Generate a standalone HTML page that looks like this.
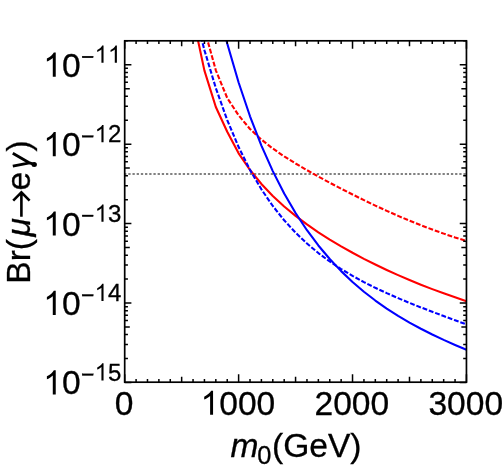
<!DOCTYPE html>
<html><head><meta charset="utf-8"><title>plot</title>
<style>html,body{margin:0;padding:0;background:#fff}svg{display:block;will-change:transform}</style></head>
<body>
<svg width="504" height="465" viewBox="0 0 504 465">
<rect width="504" height="465" fill="#fff"/>
<defs><clipPath id="c"><rect x="124.70" y="40.80" width="341.75" height="341.40"/></clipPath></defs>
<g clip-path="url(#c)" fill="none" stroke-linejoin="round">
<line x1="124.09" x2="468.45" y1="173.95" y2="173.95" stroke="#585858" stroke-width="1.45" stroke-dasharray="2.3 1.89"/>
<path d="M193.05,17.20 L204.44,70.60 L215.83,107.00 L227.23,131.70 L238.62,153.32 L250.01,170.02 L261.40,183.96 L272.79,195.93 L284.18,206.44 L295.57,215.85 L306.97,224.41 L318.36,232.27 L329.75,239.56 L341.14,246.38 L352.53,252.78 L363.93,258.83 L375.32,264.55 L386.71,269.98 L398.10,275.13 L409.49,280.03 L420.88,284.70 L432.27,289.13 L443.67,293.35 L455.06,297.36 L466.45,301.18" stroke="#f00" stroke-width="2.10"/>
<path d="M193.05,5.71 L204.44,50.21 L215.83,88.07 L227.23,120.05 L238.62,147.04 L250.01,169.90 L261.40,189.34 L272.79,205.97 L284.18,220.29 L295.57,232.70 L306.97,243.52 L318.36,253.05 L329.75,261.49 L341.14,269.05 L352.53,275.87 L363.93,282.09 L375.32,287.82 L386.71,293.14 L398.10,298.14 L409.49,302.88 L420.88,307.42 L432.27,311.80 L443.67,316.07 L455.06,320.26 L466.45,324.39" stroke="#00f" stroke-width="2.10" stroke-dasharray="4.850 1.858" stroke-dashoffset="1.507"/>
<path d="M204.44,29.31 L215.83,70.28 L227.23,98.00 L238.62,115.37 L250.01,128.96 L261.40,139.63 L272.79,148.54 L284.18,156.36 L295.57,163.49 L306.97,170.18 L318.36,176.57 L329.75,182.74 L341.14,188.71 L352.53,194.51 L363.93,200.14 L375.32,205.58 L386.71,210.83 L398.10,215.87 L409.49,220.68 L420.88,225.25 L432.27,229.57 L443.67,233.62 L455.06,237.39 L466.45,240.87" stroke="#f00" stroke-width="2.10" stroke-dasharray="4.850 1.878" stroke-dashoffset="6.640"/>
<path d="M215.83,-1.66 L227.23,43.46 L238.62,82.48 L250.01,116.26 L261.40,145.58 L272.79,171.11 L284.18,193.41 L295.57,212.99 L306.97,230.23 L318.36,245.49 L329.75,259.04 L341.14,271.13 L352.53,281.97 L363.93,291.72 L375.32,300.54 L386.71,308.56 L398.10,315.87 L409.49,322.59 L420.88,328.79 L432.27,334.54 L443.67,339.90 L455.06,344.93 L466.45,349.67" stroke="#00f" stroke-width="2.10"/>
</g>
<path d="M124.70,382.20v-8.00M124.70,40.80v8.00M136.09,382.20v-3.20M136.09,40.80v3.20M147.48,382.20v-3.20M147.48,40.80v3.20M158.88,382.20v-3.20M158.88,40.80v3.20M170.27,382.20v-3.20M170.27,40.80v3.20M181.66,382.20v-5.40M181.66,40.80v5.40M193.05,382.20v-3.20M193.05,40.80v3.20M204.44,382.20v-3.20M204.44,40.80v3.20M215.83,382.20v-3.20M215.83,40.80v3.20M227.23,382.20v-3.20M227.23,40.80v3.20M238.62,382.20v-8.00M238.62,40.80v8.00M250.01,382.20v-3.20M250.01,40.80v3.20M261.40,382.20v-3.20M261.40,40.80v3.20M272.79,382.20v-3.20M272.79,40.80v3.20M284.18,382.20v-3.20M284.18,40.80v3.20M295.57,382.20v-5.40M295.57,40.80v5.40M306.97,382.20v-3.20M306.97,40.80v3.20M318.36,382.20v-3.20M318.36,40.80v3.20M329.75,382.20v-3.20M329.75,40.80v3.20M341.14,382.20v-3.20M341.14,40.80v3.20M352.53,382.20v-8.00M352.53,40.80v8.00M363.93,382.20v-3.20M363.93,40.80v3.20M375.32,382.20v-3.20M375.32,40.80v3.20M386.71,382.20v-3.20M386.71,40.80v3.20M398.10,382.20v-3.20M398.10,40.80v3.20M409.49,382.20v-5.40M409.49,40.80v5.40M420.88,382.20v-3.20M420.88,40.80v3.20M432.27,382.20v-3.20M432.27,40.80v3.20M443.67,382.20v-3.20M443.67,40.80v3.20M455.06,382.20v-3.20M455.06,40.80v3.20M466.45,382.20v-8.00M466.45,40.80v8.00M124.70,382.42h6.70M466.45,382.42h-6.70M124.70,358.51h3.25M466.45,358.51h-3.25M124.70,344.53h3.25M466.45,344.53h-3.25M124.70,334.60h3.25M466.45,334.60h-3.25M124.70,326.91h5.10M466.45,326.91h-5.10M124.70,320.62h3.25M466.45,320.62h-3.25M124.70,315.30h3.25M466.45,315.30h-3.25M124.70,310.70h3.25M466.45,310.70h-3.25M124.70,306.63h3.25M466.45,306.63h-3.25M124.70,303.00h6.70M466.45,303.00h-6.70M124.70,279.09h3.25M466.45,279.09h-3.25M124.70,265.11h3.25M466.45,265.11h-3.25M124.70,255.18h3.25M466.45,255.18h-3.25M124.70,247.49h5.10M466.45,247.49h-5.10M124.70,241.20h3.25M466.45,241.20h-3.25M124.70,235.88h3.25M466.45,235.88h-3.25M124.70,231.28h3.25M466.45,231.28h-3.25M124.70,227.21h3.25M466.45,227.21h-3.25M124.70,223.58h6.70M466.45,223.58h-6.70M124.70,199.67h3.25M466.45,199.67h-3.25M124.70,185.69h3.25M466.45,185.69h-3.25M124.70,175.76h3.25M466.45,175.76h-3.25M124.70,168.07h5.10M466.45,168.07h-5.10M124.70,161.78h3.25M466.45,161.78h-3.25M124.70,156.46h3.25M466.45,156.46h-3.25M124.70,151.86h3.25M466.45,151.86h-3.25M124.70,147.79h3.25M466.45,147.79h-3.25M124.70,144.16h6.70M466.45,144.16h-6.70M124.70,120.25h3.25M466.45,120.25h-3.25M124.70,106.27h3.25M466.45,106.27h-3.25M124.70,96.34h3.25M466.45,96.34h-3.25M124.70,88.65h5.10M466.45,88.65h-5.10M124.70,82.36h3.25M466.45,82.36h-3.25M124.70,77.04h3.25M466.45,77.04h-3.25M124.70,72.44h3.25M466.45,72.44h-3.25M124.70,68.37h3.25M466.45,68.37h-3.25M124.70,64.74h6.70M466.45,64.74h-6.70M124.70,40.83h3.25M466.45,40.83h-3.25" stroke="#000" stroke-width="1.5" fill="none"/>
<rect x="124.70" y="40.80" width="341.75" height="341.40" fill="none" stroke="#000" stroke-width="1.7"/>
<defs><path id="o" d="M763,0H583V1147Q518,1085 412.5,1023Q307,961 223,930V1104Q374,1175 487,1276Q600,1377 647,1472H763Z"/></defs>
<g font-family="'Liberation Sans', sans-serif" fill="#000" stroke="#000" stroke-width="0.3" style="font-kerning:none" font-size="33.6">
<text x="114.66" y="414.80">0</text>
<use href="#o" transform="translate(200.54,414.80) scale(0.01641,-0.01641)"/>
<text x="219.23" y="414.80">000</text>
<text x="314.46" y="414.80">2000</text>
<text x="428.38" y="414.80">3000</text>
<use href="#o" transform="translate(43.22,394.42) scale(0.01641,-0.01641)"/>
<text x="61.90" y="394.42">0</text>
<rect x="82.14" y="373.82" width="11.10" height="1.7"/>
<use href="#o" transform="translate(94.60,380.52) scale(0.01172,-0.01172)"/>
<text x="107.95" y="380.52" font-size="24.0">5</text>
<use href="#o" transform="translate(43.22,315.00) scale(0.01641,-0.01641)"/>
<text x="61.90" y="315.00">0</text>
<rect x="82.14" y="294.40" width="11.10" height="1.7"/>
<use href="#o" transform="translate(94.60,301.10) scale(0.01172,-0.01172)"/>
<text x="107.95" y="301.10" font-size="24.0">4</text>
<use href="#o" transform="translate(43.22,235.58) scale(0.01641,-0.01641)"/>
<text x="61.90" y="235.58">0</text>
<rect x="82.14" y="214.98" width="11.10" height="1.7"/>
<use href="#o" transform="translate(94.60,221.68) scale(0.01172,-0.01172)"/>
<text x="107.95" y="221.68" font-size="24.0">3</text>
<use href="#o" transform="translate(43.22,156.16) scale(0.01641,-0.01641)"/>
<text x="61.90" y="156.16">0</text>
<rect x="82.14" y="135.56" width="11.10" height="1.7"/>
<use href="#o" transform="translate(94.60,142.26) scale(0.01172,-0.01172)"/>
<text x="107.95" y="142.26" font-size="24.0">2</text>
<use href="#o" transform="translate(43.22,76.74) scale(0.01641,-0.01641)"/>
<text x="61.90" y="76.74">0</text>
<rect x="82.14" y="56.14" width="11.10" height="1.7"/>
<use href="#o" transform="translate(94.60,62.84) scale(0.01172,-0.01172)"/>
<use href="#o" transform="translate(107.95,62.84) scale(0.01172,-0.01172)"/>
<text x="230.5" y="457.2" font-style="italic">m</text>
<text x="257.3" y="463.8" font-size="25.4">0</text>
<text x="272.0" y="457.2">(GeV)</text>
<g transform="translate(29.9,0) rotate(-90)">
<text x="-283.75" y="0">Br(</text>
<text x="-236.5" y="0" font-style="italic">μ</text>
<text x="-190.5" y="0">e</text>
<text x="-151.6" y="0">)</text>
</g>
</g>
<path d="M21.4,216.7V193.2M13.2,200.6L21.4,192.4L29.6,200.6" fill="none" stroke="#000" stroke-width="2.6" stroke-linejoin="miter"/>
<path d="M12.8,153.2L29.6,162.9M12.8,166.2L29.6,162.9L34.2,164.3" fill="none" stroke="#000" stroke-width="2.9" stroke-linejoin="round"/>
<ellipse cx="34.2" cy="164.4" rx="2.7" ry="2.5" fill="#000"/>
</svg>
</body></html>
